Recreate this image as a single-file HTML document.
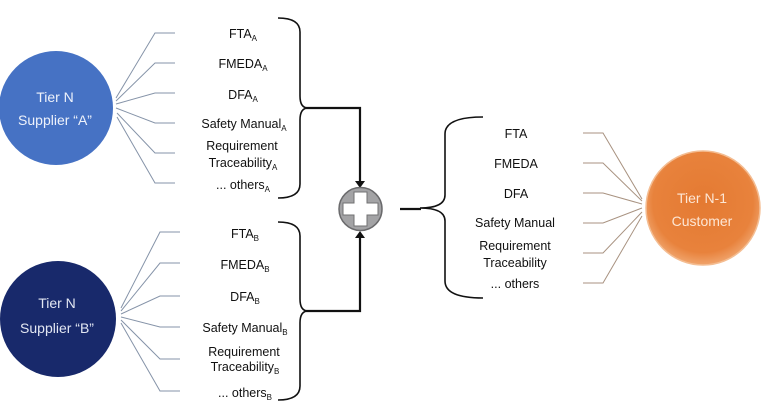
<!DOCTYPE html>
<html><head><meta charset="utf-8"><style>
html,body{margin:0;padding:0;background:#fff;}
svg{display:block;}
text{font-family:"Liberation Sans",sans-serif;}
</style></head><body>
<svg width="768" height="410" viewBox="0 0 768 410" xmlns="http://www.w3.org/2000/svg">
<defs>
<radialGradient id="og" cx="50%" cy="45%" r="55%">
<stop offset="0%" stop-color="#e47a32"/>
<stop offset="80%" stop-color="#e8823c"/>
<stop offset="100%" stop-color="#f0a46c"/>
</radialGradient>
</defs>
<rect width="768" height="410" fill="#fff"/>

<!-- Circle A -->
<circle cx="56" cy="108" r="57" fill="#4672c4"/>
<text x="55" y="102" font-size="14" fill="#eef2fb" text-anchor="middle">Tier N</text>
<text x="55" y="125" font-size="14" fill="#eef2fb" text-anchor="middle">Supplier “A”</text>

<!-- Circle B -->
<circle cx="58" cy="319" r="58" fill="#18296b"/>
<text x="57" y="308" font-size="14" fill="#e2e6f2" text-anchor="middle">Tier N</text>
<text x="57" y="333" font-size="14" fill="#e2e6f2" text-anchor="middle">Supplier “B”</text>

<!-- A connectors -->
<g stroke="#8593a8" stroke-width="1" fill="none">
<polyline points="116,98 155,33 175,33"/>
<polyline points="116,101 155,63 175,63"/>
<polyline points="116,104 155,93 175,93"/>
<polyline points="116,108 155,123 175,123"/>
<polyline points="117,113 155,153 175,153"/>
<polyline points="117,117 155,183 175,183"/>
</g>
<!-- B connectors -->
<g stroke="#8593a8" stroke-width="1" fill="none">
<polyline points="121,308 160,232 180,232"/>
<polyline points="121,311 160,263 180,263"/>
<polyline points="121,314 160,296 180,296"/>
<polyline points="121,317 160,327 180,327"/>
<polyline points="121,320 160,359 180,359"/>
<polyline points="121,323 160,391 180,391"/>
</g>
<!-- Right connectors -->
<g stroke="#a89280" stroke-width="1" fill="none">
<polyline points="583,133 603,133 642,199"/>
<polyline points="583,163 603,163 642,201"/>
<polyline points="583,193 603,193 642,204"/>
<polyline points="583,223 603,223 642,208"/>
<polyline points="583,253 603,253 642,212"/>
<polyline points="583,283 603,283 642,216"/>
</g>

<!-- A texts -->
<g font-size="12.5" fill="#111" text-anchor="middle">
<text x="243" y="38">FTA<tspan font-size="8" dy="3">A</tspan></text>
<text x="243" y="68">FMEDA<tspan font-size="8" dy="3">A</tspan></text>
<text x="243" y="99">DFA<tspan font-size="8" dy="3">A</tspan></text>
<text x="244" y="128">Safety Manual<tspan font-size="8" dy="3">A</tspan></text>
<text x="242" y="150">Requirement</text>
<text x="243" y="167">Traceability<tspan font-size="8" dy="3">A</tspan></text>
<text x="243" y="189">... others<tspan font-size="8" dy="3">A</tspan></text>
</g>
<!-- B texts -->
<g font-size="12.5" fill="#111" text-anchor="middle">
<text x="245" y="238">FTA<tspan font-size="8" dy="3">B</tspan></text>
<text x="245" y="269">FMEDA<tspan font-size="8" dy="3">B</tspan></text>
<text x="245" y="301">DFA<tspan font-size="8" dy="3">B</tspan></text>
<text x="245" y="332">Safety Manual<tspan font-size="8" dy="3">B</tspan></text>
<text x="244" y="356">Requirement</text>
<text x="245" y="371">Traceability<tspan font-size="8" dy="3">B</tspan></text>
<text x="245" y="397">... others<tspan font-size="8" dy="3">B</tspan></text>
</g>
<!-- Right texts -->
<g font-size="12.5" fill="#111" text-anchor="middle">
<text x="516" y="138">FTA</text>
<text x="516" y="168">FMEDA</text>
<text x="516" y="198">DFA</text>
<text x="515" y="227">Safety Manual</text>
<text x="515" y="250">Requirement</text>
<text x="515" y="267">Traceability</text>
<text x="515" y="288">... others</text>
</g>

<!-- Braces -->
<g stroke="#111" stroke-width="1.6" fill="none">
<path d="M278,18 Q300,18 300,32 L300,96 Q300,108 308,108 Q300,108 300,120 L300,184 Q300,198 278,198"/>
<path d="M278,222 Q300,222 300,236 L300,299 Q300,311 308,311 Q300,311 300,323 L300,386 Q300,400 278,400"/>
<path d="M483,117 Q445,117 445,134 L445,195 Q445,208 420,208 Q445,208 445,221 L445,281 Q445,298 483,298"/>
</g>

<!-- Thick connectors -->
<g stroke="#111" stroke-width="2.2" fill="none">
<polyline points="306,108 360,108 360,182"/>
<polyline points="306,311 360,311 360,237"/>
<line x1="400" y1="209" x2="421" y2="209"/>
</g>
<polygon points="355,181 365,181 360,188" fill="#111"/>
<polygon points="355,238 365,238 360,231" fill="#111"/>

<!-- Plus circle -->
<circle cx="360.5" cy="209" r="21.5" fill="#a3a3a5" stroke="#6a6a6c" stroke-width="1.5"/>
<polygon points="354,192 367,192 367,203 378,203 378,215 367,215 367,226 354,226 354,215 343,215 343,203 354,203" fill="#fff" stroke="#707072" stroke-width="1"/>

<!-- Orange circle -->
<circle cx="703" cy="208" r="57" fill="url(#og)" stroke="#f4bd92" stroke-width="1.5"/>
<text x="702" y="203" font-size="14" fill="#fde6d4" text-anchor="middle">Tier N-1</text>
<text x="702" y="226" font-size="14" fill="#fde6d4" text-anchor="middle">Customer</text>
</svg>
</body></html>
